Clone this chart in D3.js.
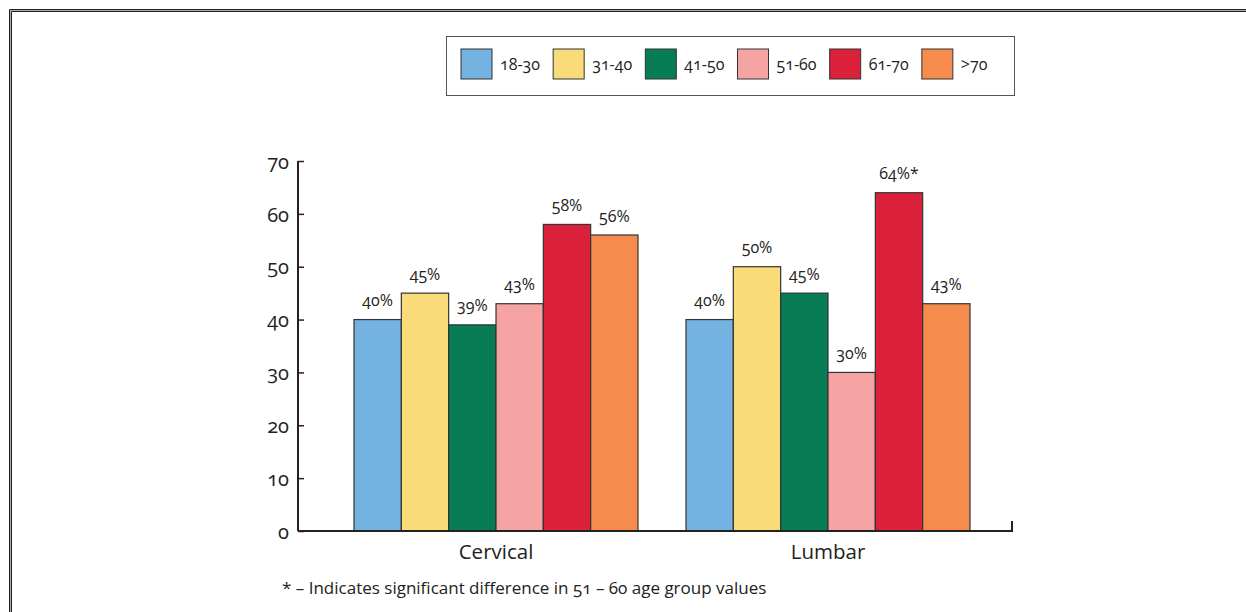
<!DOCTYPE html>
<html>
<head>
<meta charset="utf-8">
<script src="https://cdn.jsdelivr.net/npm/d3@7/dist/d3.min.js"></script>
<style>
  html, body { margin: 0; padding: 0; background: #fff; }
  svg { display: block; font-family: "Open Sans", "Noto Sans", sans-serif; font-variant-numeric: oldstyle-nums; }
</style>
</head>
<body>
<svg id="chart" width="1246" height="612"></svg>
<script>
// Spinal regions and age groups
const regions = ["Cervical", "Lumbar"];
const ageGroups = ["18-30", "31-40", "41-50", "51-60", "61-70", ">70"];
const cervicalValues = [40, 45, 39, 43, 58, 56];
const lumbarValues = [40, 50, 45, 30, 64, 43];
const valueMarks = { Lumbar: { "61-70": "*" } };
const yTicks = [0, 10, 20, 30, 40, 50, 60, 70];
const colors = ["#74b2e1", "#fadb7a", "#077c55", "#f6a3a3", "#da203a", "#f58b4c"];
const footnote = "* –  Indicates significant difference in 51 – 60 age group values";

const seriesByRegion = { Cervical: cervicalValues, Lumbar: lumbarValues };

const svg = d3.select("#chart");

// Page frame (double rule along top and left)
const frame = svg.append("g");
frame.append("path").attr("d", "M9.5,612V9.5H1246").attr("fill", "none").attr("stroke", "#222").attr("stroke-width", 1);
frame.append("path").attr("d", "M10.5,612V10.5H1246").attr("fill", "none").attr("stroke", "#aaa").attr("stroke-width", 1);
frame.append("path").attr("d", "M11.5,612V11.5H1246").attr("fill", "none").attr("stroke", "#222").attr("stroke-width", 1);

// Scales
const y = d3.scaleLinear().domain([0, 70]).range([531, 161]);
const x0 = d3.scaleBand().domain(regions).range([330, 994]).paddingInner(0.1446).paddingOuter(0.0723);
const x1 = d3.scaleBand().domain(ageGroups).range([0, x0.bandwidth()]);
const color = d3.scaleOrdinal().domain(ageGroups).range(colors);

// Bars
const groups = svg.append("g").selectAll("g")
  .data(regions)
  .join("g")
  .attr("transform", r => `translate(${x0(r)},0)`);

groups.selectAll("rect")
  .data(r => ageGroups.map((a, i) => ({ region: r, age: a, value: seriesByRegion[r][i] })))
  .join("rect")
  .attr("x", d => x1(d.age))
  .attr("y", d => y(d.value))
  .attr("width", x1.bandwidth())
  .attr("height", d => y(0) - y(d.value))
  .attr("fill", d => color(d.age))
  .attr("stroke", "#333")
  .attr("stroke-width", 1.2);

groups.selectAll("text")
  .data(r => ageGroups.map((a, i) => ({ region: r, age: a, value: seriesByRegion[r][i] })))
  .join("text")
  .attr("x", d => x1(d.age) + x1.bandwidth() / 2)
  .attr("y", d => y(d.value) - 13.5)
  .attr("text-anchor", "middle")
  .attr("font-size", 16)
  .attr("fill", "#222")
  .text(d => d.value + "%" + ((valueMarks[d.region] || {})[d.age] || ""));

// Y axis
const yAxis = d3.axisLeft(y).tickValues(yTicks).tickSize(-6).tickPadding(9);
const yg = svg.append("g").attr("transform", "translate(298,0)").call(yAxis);
yg.select(".domain").attr("stroke", "#222").attr("stroke-width", 2).attr("d", `M0,${y(70)}V${y(0)}`);
yg.selectAll(".tick line").attr("stroke", "#222").attr("stroke-width", 1.5);
yg.selectAll(".tick text").attr("font-size", 20).attr("dy", "0.36em").attr("fill", "#222").attr("font-family", "Open Sans, sans-serif");

// X axis baseline with closing tick
const xAxis = d3.axisBottom(x0).tickSize(0).tickPadding(13);
const xg = svg.append("g").attr("transform", `translate(0,${y(0)})`).call(xAxis);
xg.select(".domain").attr("stroke", "#222").attr("stroke-width", 2).attr("d", "M298,0H1012V-10");
xg.selectAll(".tick text").attr("font-size", 20.5).attr("fill", "#222").attr("font-family", "Open Sans, sans-serif");

// Legend
const legend = svg.append("g");
legend.append("rect").attr("x", 446.5).attr("y", 36.5).attr("width", 568).attr("height", 59)
  .attr("fill", "#fff").attr("stroke", "#555").attr("stroke-width", 1);
const lx = d3.scaleBand().domain(ageGroups).range([461, 1014]).paddingInner(0);
const items = legend.selectAll("g.item").data(ageGroups).join("g").attr("class", "item")
  .attr("transform", a => `translate(${lx(a)},49)`);
items.append("rect").attr("width", 31).attr("height", 30)
  .attr("fill", a => color(a)).attr("stroke", "#333").attr("stroke-width", 1);
items.append("text").attr("x", 39).attr("y", 21).attr("font-size", 16).attr("fill", "#222").text(a => a);

// Footnote
svg.append("text").attr("x", 282).attr("y", 594).attr("font-size", 17).attr("fill", "#222").text(footnote);
</script>
</body>
</html>
